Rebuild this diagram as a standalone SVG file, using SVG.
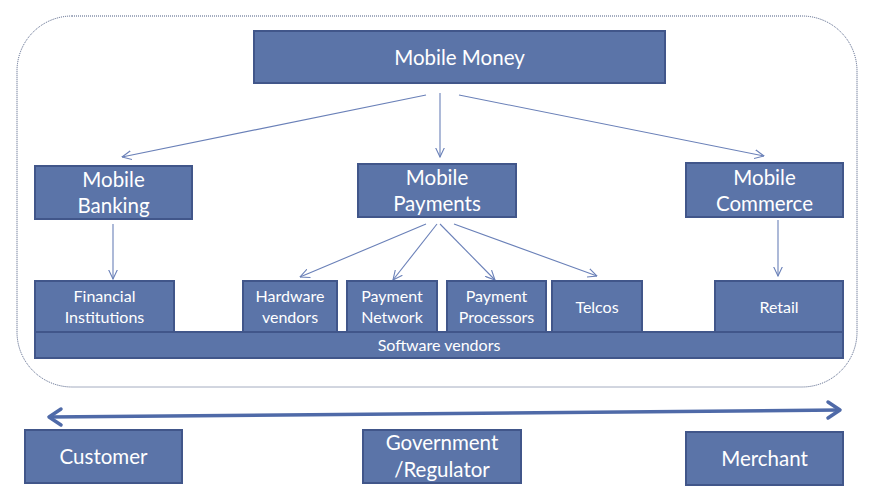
<svg xmlns="http://www.w3.org/2000/svg" width="878" height="502" viewBox="0 0 878 502">
<style>
.box{fill:#5B74A8;stroke:#41568A;stroke-width:2}
.t{fill:#fff;font-family:Lato,"Liberation Sans",sans-serif;text-anchor:middle}
.big{font-size:20.5px}
.small{font-size:16px}
.c{stroke:#6A80B8;stroke-width:1.1;fill:none;marker-end:url(#ah)}
.bigarrow{stroke:#4F6AA8;stroke-width:3.5;fill:none}
</style>
<defs>
<marker id="ah" viewBox="0 0 10 10" refX="9.5" refY="5" markerWidth="10" markerHeight="10" markerUnits="userSpaceOnUse" orient="auto">
<path d="M0,0.5 L9.5,5 L0,9.5" fill="none" stroke="#6A80B8" stroke-width="1.1"/>
</marker>
</defs>
<rect id="boundary" x="17" y="16" width="840" height="371" rx="55" ry="55" fill="none" stroke="#4A5A80" stroke-width="1" stroke-dasharray="1 1"/>
<g id="connectors">
<line class="c" x1="426" y1="95" x2="122" y2="157"/>
<line class="c" x1="440" y1="93" x2="440" y2="157"/>
<line class="c" x1="459" y1="95" x2="764" y2="156"/>
<line class="c" x1="113" y1="224" x2="113" y2="279"/>
<line class="c" x1="426" y1="224" x2="300" y2="277"/>
<line class="c" x1="437" y1="224" x2="393" y2="280"/>
<line class="c" x1="440" y1="224" x2="495" y2="280"/>
<line class="c" x1="454" y1="224" x2="597" y2="276"/>
<line class="c" x1="778" y1="220" x2="778" y2="276"/>
<g id="big-double-arrow">
<line class="bigarrow" x1="49" y1="417" x2="840" y2="410"/>
<path class="bigarrow" d="M61,409 L49,417 L61,425" stroke-linejoin="round" stroke-linecap="round"/>
<path class="bigarrow" d="M828,402 L840,410 L828,418" stroke-linejoin="round" stroke-linecap="round"/>
</g>
</g>
<g id="mobile-money">
<rect class="box" x="254" y="31" width="411" height="52"/>
<text class="t big" x="459.5" y="65">Mobile Money</text>
</g>
<g id="mobile-banking">
<rect class="box" x="35" y="166" width="157" height="53"/>
<text class="t big" x="113.5" y="187">Mobile</text>
<text class="t big" x="113.5" y="213">Banking</text>
</g>
<g id="mobile-payments">
<rect class="box" x="358" y="164" width="158" height="53"/>
<text class="t big" x="437" y="185">Mobile</text>
<text class="t big" x="437" y="211">Payments</text>
</g>
<g id="mobile-commerce">
<rect class="box" x="686" y="163" width="157" height="54"/>
<text class="t big" x="764.5" y="185">Mobile</text>
<text class="t big" x="764.5" y="211">Commerce</text>
</g>
<g id="software-vendors">
<rect class="box" x="35" y="332" width="808" height="26"/>
<text class="t small" x="439" y="351">Software vendors</text>
</g>
<g id="financial-institutions">
<rect class="box" x="35" y="281" width="139" height="51"/>
<text class="t small" x="104.5" y="302">Financial</text>
<text class="t small" x="104.5" y="323">Institutions</text>
</g>
<g id="hardware-vendors">
<rect class="box" x="243" y="281" width="94" height="51"/>
<text class="t small" x="290" y="302">Hardware</text>
<text class="t small" x="290" y="323">vendors</text>
</g>
<g id="payment-network">
<rect class="box" x="347" y="281" width="90" height="51"/>
<text class="t small" x="392" y="302">Payment</text>
<text class="t small" x="392" y="323">Network</text>
</g>
<g id="payment-processors">
<rect class="box" x="447" y="281" width="99" height="51"/>
<text class="t small" x="496.5" y="302">Payment</text>
<text class="t small" x="496.5" y="323">Processors</text>
</g>
<g id="telcos">
<rect class="box" x="552" y="281" width="90" height="51"/>
<text class="t small" x="597" y="313">Telcos</text>
</g>
<g id="retail">
<rect class="box" x="715" y="281" width="128" height="51"/>
<text class="t small" x="779" y="313">Retail</text>
</g>
<g id="customer">
<rect class="box" x="25" y="430" width="157" height="53"/>
<text class="t big" x="103.5" y="464">Customer</text>
</g>
<g id="government-regulator">
<rect class="box" x="363" y="430" width="158" height="53"/>
<text class="t big" x="442" y="450">Government</text>
<text class="t big" x="442" y="477">/Regulator</text>
</g>
<g id="merchant">
<rect class="box" x="686" y="432" width="157" height="53"/>
<text class="t big" x="764.5" y="466">Merchant</text>
</g>
</svg>
